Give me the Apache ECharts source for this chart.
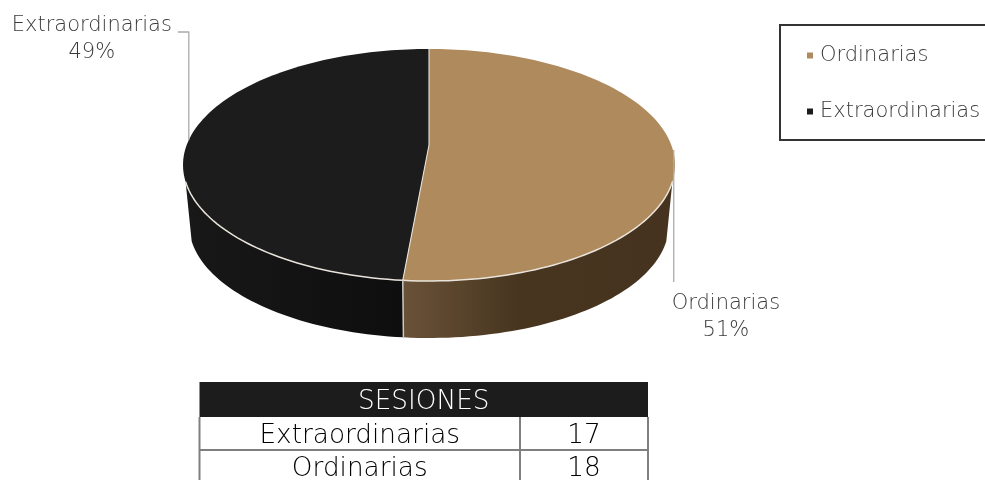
<!DOCTYPE html>
<html><head><meta charset="utf-8">
<style>html,body{margin:0;padding:0;background:#fff}#c{width:985px;height:480px}</style>
<script src="https://cdn.jsdelivr.net/npm/echarts@6/dist/echarts.min.js"></script>
</head><body><div id="c"></div>
<script>
var categories = ['Ordinarias', 'Extraordinarias'];
var sessionValues = [18, 17];
var tableTitle = 'SESIONES';
var tableCategories = ['Extraordinarias', 'Ordinarias'];
var tableValues = [17, 18];

var FONT = '"DejaVu Sans"';
var BROWN = '#AE8A5C', BLACK = '#1C1C1C', TXT = '#3A3A3A', RIM = '#E9E4DB', LEAD = '#ABABAB';
var sideFill = [
  {type:'linear',x:0,y:0,x2:1,y2:0,colorStops:[{offset:0,color:'#6A5238'},{offset:0.43,color:'#47351F'},{offset:1,color:'#45331F'}]},
  {type:'linear',x:0,y:0,x2:1,y2:0,colorStops:[{offset:0,color:'#181818'},{offset:1,color:'#0E0E0E'}]}
];
var faces = [BROWN, BLACK];

// projected disc: perspective mapping of a unit circle
var CX = 429, AY = 145, A = 242.3, B = 112.55, K = 0.1724, DEPTH_Y = 60.4, DEPTH_S = 0.975;
function project(deg, s, dy) {
  var t = deg * Math.PI / 180, X = Math.sin(t), Y = Math.cos(t), w = 1 + K * Y;
  return [CX + s * A * X / w, AY + dy - s * B * Y / w];
}
function arc(a0, a1, s, dy) {
  var n = Math.max(2, Math.ceil(Math.abs(a1 - a0) / 1.5)), p = [];
  for (var i = 0; i <= n; i++) p.push(project(a0 + (a1 - a0) * i / n, s, dy));
  return p;
}
var total = sessionValues.reduce(function (a, b) { return a + b; }, 0);
var starts = [], ends = [], acc = 0;
sessionValues.forEach(function (v) { starts.push(acc / total * 360); acc += v; ends.push(acc / total * 360); });
var FRONT0 = 108, FRONT1 = 252, RIM0 = 108, RIM1 = 252;
// label offsets from the leader's anchor
var leaders = [
  {dx: 0.8, drop: 132, hook: 0, tx: 53, ty: 167},
  {dx: 0, drop: -108, hook: -11, tx: -97, ty: -101}
];

function renderSlice(i) {
  return function (params, api) {
    var a0 = starts[i], a1 = ends[i], children = [];
    var f0 = Math.max(a0, FRONT0), f1 = Math.min(a1, FRONT1);
    var side = arc(f0, f1, 1, 0).concat(arc(f1, f0, DEPTH_S, DEPTH_Y));
    children.push({type:'polygon', z2:1, shape:{points:side}, style:{fill:sideFill[i]}});
    var top = [[CX, AY]].concat(arc(a0, a1, 1, 0));
    children.push({type:'polygon', z2:2, shape:{points:top}, style:{fill:faces[i]}});
    // rim highlight
    var r0 = Math.max(a0, RIM0), r1 = Math.min(a1, RIM1);
    children.push({type:'polyline', z2:3, shape:{points:arc(r0, r1, 1, 0)}, style:{fill:null, stroke:RIM, lineWidth:1.5}});
    // leader + label
    var mid = (a0 + a1) / 2, p = project(mid, 1, 0), L = leaders[i];
    var lx = p[0] + L.dx;
    var pts = [[lx, p[1]], [lx, p[1] + L.drop]];
    if (L.hook) pts.push([lx + L.hook, p[1] + L.drop]);
    children.push({type:'polyline', z2:4, shape:{points:pts}, style:{fill:null, stroke:LEAD, lineWidth:1.3}});
    children.push({type:'text', z2:5, style:{
      text: categories[i] + '\n' + Math.round(api.value(0) / total * 100) + '%',
      x: p[0] + L.tx, y: p[1] + L.ty, align:'center', verticalAlign:'middle',
      fill:TXT, font:'200 21px ' + FONT, lineHeight:27
    }});
    return {type:'group', children:children};
  };
}
function renderDividers(params, api) {
  var b = starts[1];
  var p = project(b, 1, 0), q = project(b, DEPTH_S, DEPTH_Y), t = project(0, 1, 0);
  return {type:'group', children:[
    {type:'polyline', shape:{points:[t,[CX,AY],p]}, style:{fill:null, stroke:RIM, lineWidth:1.1}},
    {type:'line', shape:{x1:p[0],y1:p[1],x2:q[0],y2:q[1]}, style:{stroke:'#C9C9C9', lineWidth:1.5}}
  ]};
}

var series = categories.map(function (name, i) {
  return {type:'custom', name:name, coordinateSystem:'none', animation:false, silent:true, z:2,
    itemStyle:{color:faces[i]}, data:[[sessionValues[i]]], renderItem:renderSlice(i)};
});
series.push({type:'custom', name:'divider', coordinateSystem:'none', animation:false, silent:true, z:3,
  data:[[0]], renderItem:renderDividers});

// table
var TX0 = 199.5, TX1 = 520, TX2 = 648, TY = [382, 417, 450, 483];
var g = [];
var TFONT = '200 26.3px ' + FONT;
g.push({type:'rect', shape:{x:TX0,y:TY[0],width:TX2-TX0,height:TY[1]-TY[0]}, style:{fill:BLACK}});
g.push({type:'text', style:{text:tableTitle,x:(TX0+TX2)/2,y:(TY[0]+TY[1])/2+3,align:'center',verticalAlign:'middle',fill:'#fff',font:TFONT}});
var GRID = '#7F7F7F';
[TX0,TX1,TX2].forEach(function (x) {
  g.push({type:'line', shape:{x1:x,y1:TY[1],x2:x,y2:TY[3]}, style:{stroke:GRID,lineWidth:2}});
});
g.push({type:'line', shape:{x1:TX0,y1:TY[2],x2:TX2,y2:TY[2]}, style:{stroke:GRID,lineWidth:2}});
tableCategories.forEach(function (c, i) {
  var y = (TY[i+1]+TY[i+2])/2;
  g.push({type:'text', style:{text:c,x:(TX0+TX1)/2,y:y+3,align:'center',verticalAlign:'middle',fill:'#000',font:TFONT}});
  g.push({type:'text', style:{text:String(tableValues[i]),x:(TX1+TX2)/2,y:y+3,align:'center',verticalAlign:'middle',fill:'#000',font:TFONT}});
});

var chart = echarts.init(document.getElementById('c'), null, {renderer:'canvas'});
chart.setOption({
  animation:false,
  backgroundColor:'#fff',
  legend:{
    data:categories, orient:'vertical', left:780, top:25,
    icon:'rect', itemWidth:6, itemHeight:6, itemGap:35,
    padding:[20,25,18,27],
    borderColor:'#333', borderWidth:2,
    selectedMode:false,
    textStyle:{color:TXT, fontFamily:'DejaVu Sans', fontWeight:200, fontSize:21, padding:[0,0,0,2]}
  },
  series:series,
  graphic:{elements:g}
});
</script></body></html>
